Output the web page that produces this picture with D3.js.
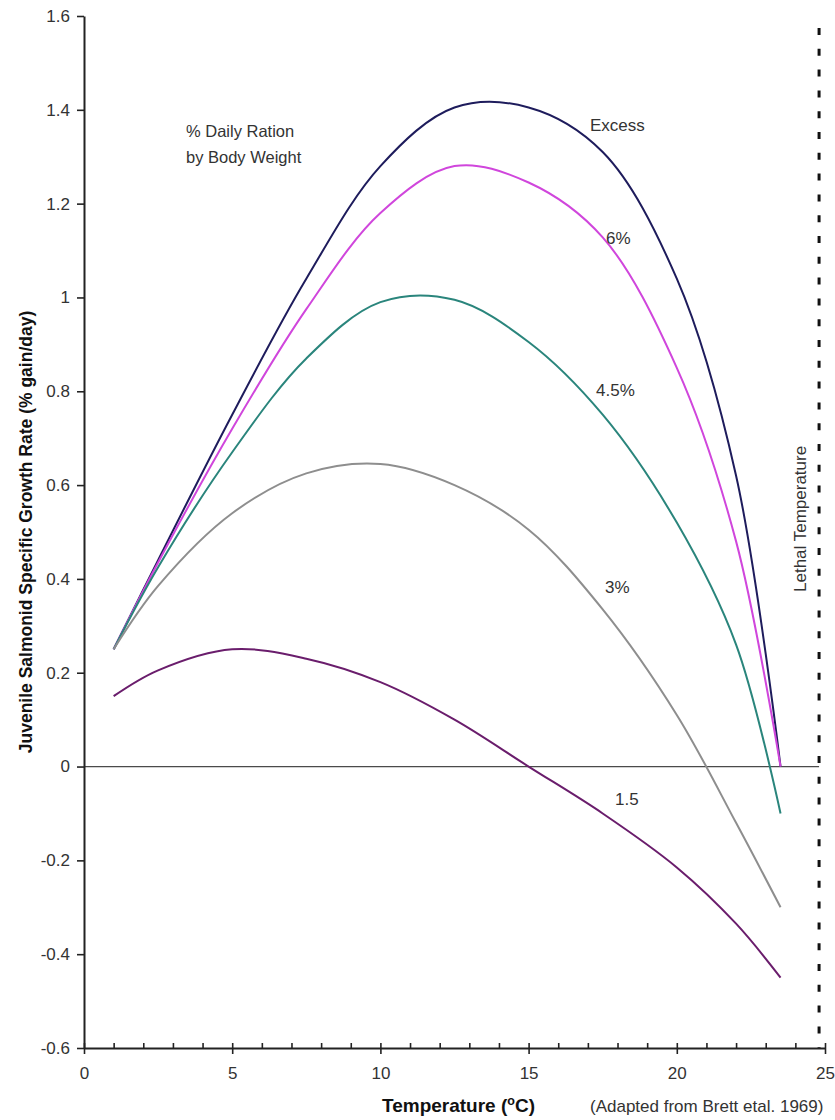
<!DOCTYPE html>
<html>
<head>
<meta charset="utf-8">
<script src="https://cdn.jsdelivr.net/npm/d3@7"></script>
<style>
  body { margin: 0; background: #fff; }
  text { font-family: "Liberation Sans", Arial, sans-serif; }
</style>
</head>
<body>
<svg id="chart" width="835" height="1120"></svg>
<script>
const temps = [1, 2.5, 5, 7.5, 10, 12.5, 15, 17.5, 20, 22, 23.5];

// Growth rate (% gain/day) for each daily ration
const excess   = [0.25, 0.44, 0.75, 1.04, 1.28, 1.405, 1.405, 1.31, 1.04, 0.62, 0.0];
const ration6  = [0.25, 0.435, 0.72, 0.975, 1.18, 1.28, 1.245, 1.128, 0.85, 0.48, 0.0];
const ration45 = [0.25, 0.425, 0.67, 0.87, 0.99, 0.995, 0.905, 0.75, 0.52, 0.26, -0.10];
const ration3  = [0.25, 0.385, 0.54, 0.625, 0.645, 0.60, 0.505, 0.335, 0.11, -0.12, -0.30];
const ration15 = [0.15, 0.205, 0.25, 0.23, 0.18, 0.10, 0.0, -0.10, -0.215, -0.335, -0.45];

const seriesNames = ["Excess", "6%", "4.5%", "3%", "1.5"];
const seriesValues = [excess, ration6, ration45, ration3, ration15];
const seriesColors = ["#1e1c5c", "#d046dc", "#2a857c", "#8e8e8e", "#6a1d6c"];

// Axis ticks
const xTicks = [0, 5, 10, 15, 20, 25];
const xMinorTicks = [0, 1, 2, 3, 4, 5, 6, 7, 8, 9, 10, 11, 12, 13, 14, 15, 16, 17, 18, 19, 20, 21, 22, 23, 24, 25];
const yTicks = [-0.6, -0.4, -0.2, 0, 0.2, 0.4, 0.6, 0.8, 1, 1.2, 1.4, 1.6];
const yTickLabels = ["-0.6", "-0.4", "-0.2", "0", "0.2", "0.4", "0.6", "0.8", "1", "1.2", "1.4", "1.6"];

const lethalTemp = 24.8;

const svg = d3.select("#chart");

const x = d3.scaleLinear().domain([0, 25]).range([84, 825]);
const y = d3.scaleLinear().domain([-0.6, 1.6]).range([1048, 16]);

// zero line, up to the lethal temperature
svg.append("line")
    .attr("x1", x(0)).attr("x2", x(lethalTemp))
    .attr("y1", y(0)).attr("y2", y(0))
    .attr("stroke", "#4a4a4a")
    .attr("stroke-width", 1.3);

// lethal temperature dashed line
svg.append("line")
    .attr("x1", x(lethalTemp)).attr("x2", x(lethalTemp))
    .attr("y1", 28).attr("y2", y(-0.6))
    .attr("stroke", "#111")
    .attr("stroke-width", 3)
    .attr("stroke-dasharray", "7,13.8");

svg.append("text")
    .attr("transform", `translate(${x(lethalTemp) - 13},592) rotate(-90)`)
    .attr("font-size", 17)
    .attr("fill", "#333")
    .text("Lethal Temperature");

// growth curves
const line = d3.line()
    .x((d, i) => x(temps[i]))
    .y(d => y(d))
    .curve(d3.curveCatmullRom.alpha(0.5));

svg.selectAll(".curve")
    .data(seriesValues)
    .join("path")
    .attr("class", "curve")
    .attr("d", d => line(d))
    .attr("fill", "none")
    .attr("stroke", (d, i) => seriesColors[i])
    .attr("stroke-width", 2);

// y axis
svg.append("g")
    .attr("transform", `translate(${x(0)},0)`)
    .call(d3.axisLeft(y)
        .tickValues(yTicks)
        .tickFormat((d, i) => yTickLabels[i])
        .tickSize(7)
        .tickPadding(7)
        .tickSizeOuter(0));

// x axis: minor ticks pointing up, major ticks with labels
svg.append("g")
    .attr("transform", `translate(0,${y(-0.6)})`)
    .call(d3.axisBottom(x).tickValues(xMinorTicks).tickSize(-5).tickFormat(""))
    .call(g => g.select(".domain").remove());

svg.append("g")
    .attr("transform", `translate(0,${y(-0.6)})`)
    .call(d3.axisBottom(x)
        .tickValues(xTicks)
        .tickSize(6)
        .tickPadding(13)
        .tickSizeOuter(0));

svg.selectAll(".domain").attr("stroke", "#222").attr("stroke-width", 2);
svg.selectAll(".tick line").attr("stroke", "#222").attr("stroke-width", 1.6);
svg.selectAll(".tick text")
    .attr("font-size", 17)
    .attr("font-family", "Liberation Sans, Arial, sans-serif")
    .attr("fill", "#333");

// axis titles
svg.append("text")
    .attr("transform", `translate(32,${(y(1.6) + y(-0.6)) / 2}) rotate(-90)`)
    .attr("text-anchor", "middle")
    .attr("font-size", 17.5)
    .attr("font-weight", "bold")
    .attr("fill", "#111")
    .text("Juvenile Salmonid Specific Growth Rate (% gain/day)");

const xTitle = svg.append("text")
    .attr("x", 382)
    .attr("y", 1112)
    .attr("font-size", 19)
    .attr("font-weight", "bold")
    .attr("fill", "#111");
xTitle.append("tspan").text("Temperature (");
xTitle.append("tspan").attr("font-size", 12.5).attr("dy", -7).text("o");
xTitle.append("tspan").attr("dy", 7).text("C)");

svg.append("text")
    .attr("x", 590)
    .attr("y", 1112)
    .attr("font-size", 17)
    .attr("fill", "#333")
    .text("(Adapted from Brett etal. 1969)");

// legend heading
svg.append("text")
    .attr("x", 186).attr("y", 137)
    .attr("font-size", 16.5).attr("fill", "#333")
    .text("% Daily Ration");
svg.append("text")
    .attr("x", 186).attr("y", 163)
    .attr("font-size", 16.5).attr("fill", "#333")
    .text("by Body Weight");

// curve labels
const labelPos = [[590, 131], [606, 244], [596, 396], [605, 593], [615, 805]];
svg.selectAll(".curve-label")
    .data(seriesNames)
    .join("text")
    .attr("class", "curve-label")
    .attr("x", (d, i) => labelPos[i][0])
    .attr("y", (d, i) => labelPos[i][1])
    .attr("font-size", 17)
    .attr("fill", "#333")
    .text(d => d);
</script>
</body>
</html>
